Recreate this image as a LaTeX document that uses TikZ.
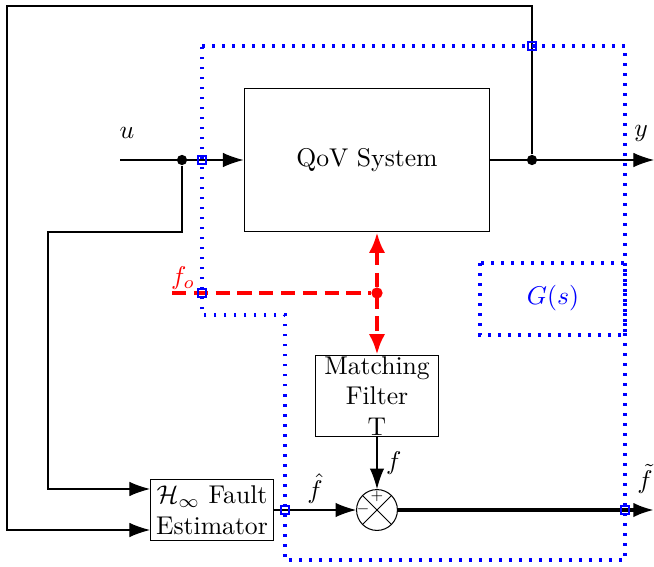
\documentclass[tikz,border=0pt]{standalone}
\usepackage{amsmath,amssymb}
\usepackage{tikz}
\usetikzlibrary{arrows.meta,positioning,calc}

\begin{document}
\begin{tikzpicture}[x=0.0137cm,y=-0.0137cm,every node/.style={align=center},
  block/.style={draw,inner sep=1pt},
  sig/.style={-{Latex[length=8pt,width=5.6pt]}},
  port/.style={draw=blue,semithick,minimum size=3pt,inner sep=0pt},
  junc/.style={circle,fill,inner sep=0pt,minimum size=4pt},
  region/.style={blue,line width=1.2pt,dash pattern=on 1.1pt off 2.8pt},
  fault/.style={red,line width=1.5pt,dash pattern=on 5.5pt off 3pt}]
\useasboundingbox (0,0) rectangle (654,566);
\node[block,minimum width=3.37cm,minimum height=1.97cm] (sys) at (367,160) {QoV System};
\node[block,inner sep=0pt,minimum width=1.685cm,minimum height=1.12cm] (filt) at (377,396) {Matching\\Filter\\T};
\node[draw,circle,inner sep=0pt,minimum size=0.56cm,
  path picture={\draw (path picture bounding box.north west)--(path picture bounding box.south east)
    (path picture bounding box.north east)--(path picture bounding box.south west);}] (sum) at (377,510) {};
\node[block,minimum width=1.685cm,minimum height=0.836cm] (est) at (212,510) {$\mathcal{H}_\infty$ Fault\\Estimator};
\node[font=\tiny,inner sep=0pt] (plus) at ($(sum.center)+(0,-14)$) {$+$};
\node[font=\tiny,inner sep=0pt] (minus) at ($(sum.center)+(-14,-1)$) {$-$};

\coordinate (uin) at (120,160);
\coordinate (yout) at (654,160);
\coordinate (fout) at (654,510);
\coordinate (fo) at (172,293);
\node[junc] (j1) at (182,160) {};
\node[junc] (j2) at (532,160) {};
\node[junc,red,minimum size=4.4pt] (rdot) at (377,293) {};

\draw[sig] (uin) -- (sys.west);
\draw[sig] (sys.east) -- (yout);
\draw[sig] (j2) -- (532,6) -- (7,6) |- ([yshift=-0.274cm]est.west);
\draw[sig] (j1) -- (182,232) -- (48,232) |- ([yshift=0.288cm]est.west);
\draw[sig] (est.east) -- node[above=-1pt]{$\hat{f}$} (sum.west);
\draw[sig] (filt.south) -- node[right]{$f$} (sum.north);
\draw[sig,line width=1.2pt] (sum.east) -- (fout);
\draw[fault] (fo) -- (rdot);
\draw[fault,{Latex[length=8pt,width=6.4pt]}-{Latex[length=8pt,width=6.4pt]}] (rdot |- sys.south) -- (filt.north);

\draw[region] (202,46) -- (625,46) -- (625,560) -- (285,560) -- (285,315) -- (202,315) -- cycle;
\draw[region] (480,263) rectangle (625,335);
\foreach \pos [count=\i] in {(202,160),(532,46),(202,293),(285,510),(625,510)}
  \node[port] (port\i) at \pos {};

\node (ulab) at (127,133) {$u$};
\node (ylab) at (641,133) {$y$};
\node[red] (folab) at (183,278) {$f_o$};
\node (ftlab) at (645,479) {$\tilde{f}$};
\node[blue] (glab) at (553,298) {$G(s)$};
\end{tikzpicture}
\end{document}
